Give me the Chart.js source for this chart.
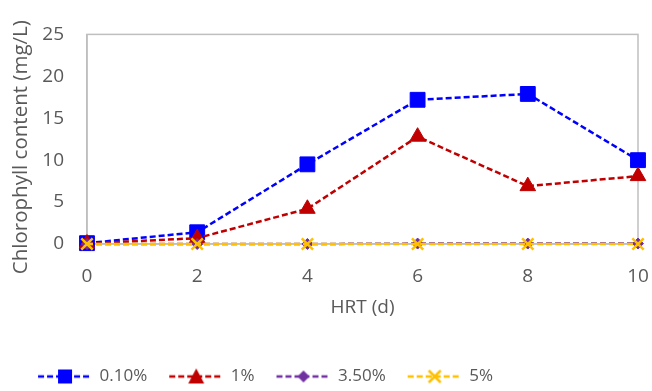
<!DOCTYPE html>
<html>
<head>
<meta charset="utf-8">
<script src="https://cdn.jsdelivr.net/npm/chart.js@4/dist/chart.umd.min.js"></script>
<style>
body { margin: 0; background: #fff; }
#wrap { width: 652px; height: 391px; position: relative; }
</style>
</head>
<body>
<div id="wrap"><canvas id="myChart"></canvas></div>
<script>
// data
const hrt_days = [0, 2, 4, 6, 8, 10];
const series_labels = ["0.10%", "1%", "3.50%", "5%"];
const conc_010 = [0.1, 1.4, 9.5, 17.2, 17.9, 10.0];
const conc_1 = [0.05, 0.7, 4.2, 12.8, 6.9, 8.1];
const conc_350 = [0, 0, 0, 0.05, 0.05, 0.05];
const conc_5 = [0, 0, 0, 0, 0, 0];
const y_ticks = [0, 5, 10, 15, 20, 25];

const FONT = "'Open Sans', sans-serif";
const GREY = "#595959";

function toPoints(ys) {
    return hrt_days.map((x, i) => ({ x: x, y: ys[i] }));
}

// small legend picture: dashed line with the marker in the middle
function legendIcon(color, shape) {
    const c = document.createElement("canvas");
    c.width = 56;
    c.height = 20;
    const g = c.getContext("2d");
    g.strokeStyle = color;
    g.lineWidth = 2.5;
    g.setLineDash([6, 3]);
    g.beginPath();
    g.moveTo(1, 10);
    g.lineTo(55, 10);
    g.stroke();
    g.setLineDash([]);
    g.fillStyle = color;
    g.beginPath();
    if (shape === "rect") {
        g.rect(21, 3, 14, 14);
        g.fill();
    } else if (shape === "triangle") {
        g.moveTo(28, 2);
        g.lineTo(36, 17);
        g.lineTo(20, 17);
        g.closePath();
        g.fill();
    } else if (shape === "rectRot") {
        g.moveTo(28, 4);
        g.lineTo(34, 10);
        g.lineTo(28, 16);
        g.lineTo(22, 10);
        g.closePath();
        g.fill();
    } else {
        g.lineWidth = 2.5;
        g.moveTo(22, 4); g.lineTo(34, 16);
        g.moveTo(34, 4); g.lineTo(22, 16);
        g.stroke();
    }
    return c;
}

const frame = {
    id: "frame",
    afterLayout(chart) {
        // legend sits a bit left of the middle in the original
        chart.legend.right -= 106;
    },
    beforeDatasetsDraw(chart) {
        const a = chart.chartArea;
        const ctx = chart.ctx;
        ctx.save();
        ctx.strokeStyle = "#BFBFBF";
        ctx.lineWidth = 1.5;
        ctx.strokeRect(a.left, a.top, a.right - a.left, a.bottom - a.top);
        ctx.restore();
    }
};

const styles = [
    { color: "#0000FF", shape: "rect", radius: 10.5, order: 3 },
    { color: "#C00000", shape: "triangle", radius: 9, order: 2 },
    { color: "#7030A0", shape: "rectRot", radius: 5.5, order: 1 },
    { color: "#FFC000", shape: "crossRot", radius: 8, order: 0 }
];
const all_values = [conc_010, conc_1, conc_350, conc_5];

const datasets = series_labels.map((name, i) => {
    const s = styles[i];
    return {
        label: name,
        data: toPoints(all_values[i]),
        borderColor: s.color,
        backgroundColor: s.color,
        borderWidth: 2.5,
        borderDash: [6, 3],
        pointStyle: s.shape,
        pointRadius: s.radius,
        pointBorderWidth: s.shape === "crossRot" ? 2.5 : 1,
        pointBackgroundColor: s.color,
        pointBorderColor: s.color,
        order: s.order,
        clip: false,
        icon: legendIcon(s.color, s.shape)
    };
});

const ctx = document.getElementById("myChart");
const myChart = new Chart(ctx, {
    type: "line",
    data: { datasets: datasets },
    plugins: [frame],
    options: {
        responsive: true,
        maintainAspectRatio: false,
        animation: false,
        layout: { padding: { top: 19, right: 14, left: 0, bottom: -4 } },
        plugins: {
            tooltip: { enabled: false },
            legend: {
                position: "bottom",
                labels: {
                    usePointStyle: true,
                    pointStyleWidth: 52,
                    padding: 23,
                    color: GREY,
                    font: { family: FONT, size: 17 },
                    generateLabels(chart) {
                        return chart.data.datasets.map((d, i) => ({
                            text: d.label,
                            pointStyle: d.icon,
                            fillStyle: d.borderColor,
                            strokeStyle: d.borderColor,
                            lineWidth: 0,
                            fontColor: GREY,
                            hidden: false,
                            datasetIndex: i
                        }));
                    }
                }
            }
        },
        scales: {
            x: {
                type: "linear",
                min: 0,
                max: 10,
                afterBuildTicks(scale) {
                    scale.ticks = hrt_days.map(v => ({ value: v }));
                },
                afterFit(scale) {
                    scale.height = 101;
                    scale.paddingLeft = 0;
                    scale.paddingRight = 0;
                },
                grid: { display: false, drawTicks: false },
                border: { color: "#BFBFBF", width: 1.5 },
                ticks: { color: GREY, font: { family: FONT, size: 19 }, padding: 21, maxRotation: 0 },
                title: {
                    display: true,
                    text: "HRT (d)",
                    color: GREY,
                    font: { family: FONT, size: 19 },
                    padding: { top: 26, bottom: 26 }
                }
            },
            y: {
                min: 0,
                max: 25,
                afterBuildTicks(scale) {
                    scale.ticks = y_ticks.map(v => ({ value: v }));
                },
                afterFit(scale) { scale.width = 87; },
                grid: { display: false, drawTicks: false },
                border: { color: "#BFBFBF", width: 1.5 },
                ticks: { color: GREY, font: { family: FONT, size: 19 }, padding: 23 },
                title: {
                    display: true,
                    text: "Chlorophyll content (mg/L)\u00a0\u00a0\u00a0",
                    color: GREY,
                    font: { family: FONT, size: 20.5 },
                    padding: { top: 9, bottom: 0 }
                }
            }
        }
    }
});
</script>
</body>
</html>
